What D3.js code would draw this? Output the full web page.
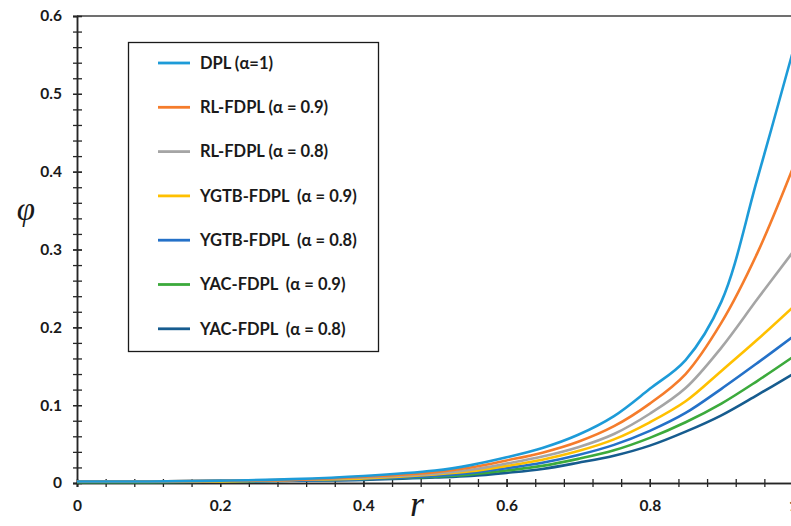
<!DOCTYPE html>
<html>
<head>
<meta charset="utf-8">
<script src="https://cdn.jsdelivr.net/npm/d3@7"></script>
<style>
  html, body { margin: 0; padding: 0; background: #fff; overflow: hidden; }
  svg { display: block; }
  text { white-space: pre; }
</style>
</head>
<body>
<svg id="chart" width="791" height="526"></svg>
<script>
// Radial positions shared by all series
const rValues = [0, 0.1, 0.2, 0.3, 0.4, 0.5, 0.55, 0.6, 0.65, 0.7, 0.75, 0.8, 0.85, 0.9, 0.95, 1];

// Temperature response phi for each model
const dpl      = [0.002, 0.002, 0.003, 0.005, 0.009, 0.016, 0.023, 0.033, 0.045, 0.062, 0.086, 0.121, 0.158, 0.233, 0.39, 0.555];
const rl09     = [0.002, 0.002, 0.003, 0.004, 0.008, 0.014, 0.020, 0.029, 0.039, 0.053, 0.073, 0.102, 0.140, 0.206, 0.295, 0.405];
const rl08     = [0.002, 0.002, 0.003, 0.004, 0.007, 0.012, 0.017, 0.025, 0.034, 0.046, 0.063, 0.089, 0.122, 0.174, 0.236, 0.297];
const ygtb09   = [0.002, 0.002, 0.002, 0.004, 0.006, 0.011, 0.015, 0.022, 0.030, 0.041, 0.056, 0.078, 0.105, 0.144, 0.184, 0.226];
const ygtb08   = [0.002, 0.002, 0.002, 0.003, 0.005, 0.009, 0.013, 0.019, 0.026, 0.036, 0.049, 0.067, 0.090, 0.121, 0.154, 0.188];
const yac09    = [0.001, 0.001, 0.002, 0.003, 0.005, 0.008, 0.011, 0.016, 0.022, 0.031, 0.042, 0.058, 0.078, 0.102, 0.131, 0.162];
const yac08    = [0.001, 0.001, 0.002, 0.003, 0.004, 0.007, 0.009, 0.013, 0.018, 0.026, 0.035, 0.048, 0.066, 0.087, 0.113, 0.140];

const seriesNames = [
  "DPL (α=1)",
  "RL-FDPL (α = 0.9)",
  "RL-FDPL (α = 0.8)",
  "YGTB-FDPL  (α = 0.9)",
  "YGTB-FDPL  (α = 0.8)",
  "YAC-FDPL  (α = 0.9)",
  "YAC-FDPL  (α = 0.8)"
];
const seriesValues = [dpl, rl09, rl08, ygtb09, ygtb08, yac09, yac08];
const seriesColors = ["#1d9bd8", "#f57c2b", "#a5a5a5", "#ffc000", "#2471c8", "#3caa3c", "#165c8f"];

// Tick values
const xMajorTicks = [0, 0.2, 0.4, 0.6, 0.8, 1];
const xTickLabels = ["0", "0.2", "0.4", "0.6", "0.8", "1"];
const yMajorTicks = [0, 0.1, 0.2, 0.3, 0.4, 0.5, 0.6];
const yTickLabels = ["0", "0.1", "0.2", "0.3", "0.4", "0.5", "0.6"];

const svg = d3.select("#chart");
const plotLeft = 77, plotRight = 793, plotTop = 16, plotBottom = 483;

const x = d3.scaleLinear().domain([0, 1]).range([plotLeft, plotRight]);
const y = d3.scaleLinear().domain([0, 0.6]).range([plotBottom, plotTop]);

const axisColor = "#262626";
const labelFont = "Lato, 'Open Sans', sans-serif";

// Frame: top and right edges
svg.append("line").attr("x1", x(0)).attr("x2", x(1)).attr("y1", y(0.6)).attr("y2", y(0.6))
  .attr("stroke", "#404040").attr("stroke-width", 1.5);
svg.append("line").attr("x1", x(1)).attr("x2", x(1)).attr("y1", y(0.6)).attr("y2", y(0))
  .attr("stroke", "#404040").attr("stroke-width", 1.5);

// Minor ticks crossing the axes
const xMinor = d3.range(0, 1.0001, 0.04);
const yMinor = d3.range(0, 0.6001, 0.02);

const yAxis = d3.axisLeft(y).tickValues(yMinor).tickSize(4).tickFormat("");
const gy = svg.append("g").attr("transform", `translate(${plotLeft},0)`).call(yAxis);
gy.selectAll(".tick line").attr("x2", 5).attr("x1", -4);
const yAxisMajor = d3.axisLeft(y).tickValues(yMajorTicks).tickSize(4).tickPadding(11)
  .tickFormat((d, i) => yTickLabels[i]);
const gyM = svg.append("g").attr("transform", `translate(${plotLeft},0)`).call(yAxisMajor);
gyM.selectAll(".tick line").attr("x2", 5).attr("x1", -4);

const xAxis = d3.axisBottom(x).tickValues(xMinor).tickSize(4).tickFormat("");
const gx = svg.append("g").attr("transform", `translate(0,${plotBottom})`).call(xAxis);
gx.selectAll(".tick line").attr("y1", -4);
const xAxisMajor = d3.axisBottom(x).tickValues(xMajorTicks).tickSize(4).tickPadding(13)
  .tickFormat((d, i) => xTickLabels[i]);
const gxM = svg.append("g").attr("transform", `translate(0,${plotBottom})`).call(xAxisMajor);
gxM.selectAll(".tick line").attr("y1", -4);

[gy, gyM, gx, gxM].forEach(g => {
  g.select(".domain").attr("stroke", axisColor).attr("stroke-width", 1.5);
  g.selectAll(".tick line").attr("stroke", axisColor).attr("stroke-width", 1.3);
  g.selectAll("text").attr("font-family", labelFont).attr("font-weight", "bold")
    .attr("font-size", 15.5).attr("fill", "#1a1a1a");
});

// Curves
const line = d3.line()
  .x((d, i) => x(rValues[i]))
  .y(d => y(d))
  .curve(d3.curveCatmullRom.alpha(0.5));

const plot = svg.append("g");
seriesValues.slice().reverse().forEach((vals, k) => {
  const idx = seriesValues.length - 1 - k;
  plot.append("path")
    .datum(vals)
    .attr("d", line)
    .attr("fill", "none")
    .attr("stroke", seriesColors[idx])
    .attr("stroke-width", 2.6)
    .attr("stroke-linejoin", "round");
});

// Legend
const legend = svg.append("g");
legend.append("rect").attr("x", 128.5).attr("y", 42.5).attr("width", 250).attr("height", 309)
  .attr("fill", "#fff").attr("stroke", "#1a1a1a").attr("stroke-width", 1.3);
seriesNames.forEach((name, i) => {
  const cy = 63 + i * 44.3;
  legend.append("line").attr("x1", 158).attr("x2", 190).attr("y1", cy).attr("y2", cy)
    .attr("stroke", seriesColors[i]).attr("stroke-width", 2.8);
  legend.append("text").attr("x", 200).attr("y", cy).attr("dy", "0.35em")
    .attr("font-family", labelFont).attr("font-weight", "bold").attr("font-size", 16.5)
    .attr("fill", "#1a1a1a").text(name);
});

// Axis titles
svg.append("text").attr("x", 26).attr("y", 220).attr("text-anchor", "middle")
  .attr("font-family", "'Liberation Serif', 'DejaVu Serif', serif").attr("font-style", "italic")
  .attr("font-size", 33).attr("fill", "#1a1a1a").text("φ");
svg.append("text").attr("x", 417).attr("y", 516).attr("text-anchor", "middle")
  .attr("font-family", "'Liberation Serif', 'DejaVu Serif', serif").attr("font-style", "italic")
  .attr("font-size", 36).attr("fill", "#1a1a1a").text("r");
</script>
</body>
</html>
